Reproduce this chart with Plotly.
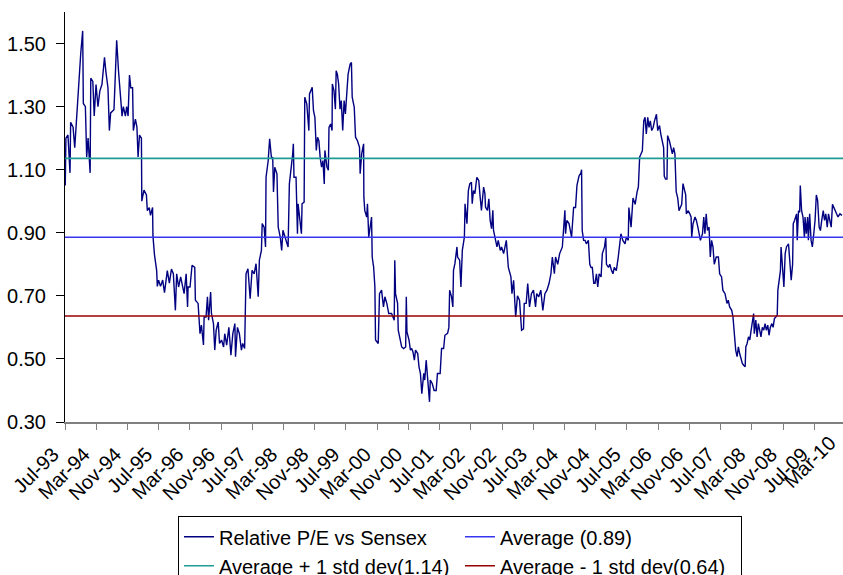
import pandas as pd
import plotly.graph_objects as go

# Weekly-sampled relative P/E (stock P/E divided by Sensex P/E)
dates = [
    "1993-07-03", "1993-07-08", "1993-07-24", "1993-08-09", "1993-08-14", "1993-09-02", "1993-09-15",
    "1993-10-05", "1993-10-16", "1993-11-01", "1993-11-16", "1993-11-21", "1993-12-07", "1993-12-17",
    "1993-12-28", "1994-01-13", "1994-01-18", "1994-02-03", "1994-02-14", "1994-02-28", "1994-03-15",
    "1994-03-30", "1994-04-15", "1994-05-05", "1994-05-16", "1994-06-01", "1994-06-12", "1994-06-22",
    "1994-07-18", "1994-08-08", "1994-08-23", "1994-09-08", "1994-09-19", "1994-09-29", "1994-10-15",
    "1994-10-25", "1994-11-05", "1994-11-16", "1994-11-26", "1994-12-10", "1994-12-16", "1995-01-01",
    "1995-01-13", "1995-01-22", "1995-02-02", "1995-02-17", "1995-02-20", "1995-03-09", "1995-03-28",
    "1995-04-04", "1995-04-19", "1995-04-29", "1995-05-15", "1995-05-18", "1995-05-30", "1995-06-16",
    "1995-06-21", "1995-07-01", "1995-07-16", "1995-08-02", "1995-08-16", "1995-09-07", "1995-09-23",
    "1995-10-09", "1995-10-24", "1995-11-09", "1995-11-19", "1995-12-04", "1995-12-20", "1996-01-16",
    "1996-02-01", "1996-02-12", "1996-02-16", "1996-03-02", "1996-03-18", "1996-04-08", "1996-04-13",
    "1996-05-04", "1996-05-19", "1996-05-30", "1996-06-15", "1996-06-20", "1996-07-05", "1996-07-16",
    "1996-07-25", "1996-08-10", "1996-08-16", "1996-09-01", "1996-09-11", "1996-09-22", "1996-10-08",
    "1996-10-18", "1996-11-03", "1996-11-19", "1996-11-28", "1996-12-13", "1996-12-30", "1997-01-15",
    "1997-01-30", "1997-02-15", "1997-02-20", "1997-03-07", "1997-03-22", "1997-04-07", "1997-04-17",
    "1997-05-02", "1997-05-13", "1997-05-28", "1997-06-14", "1997-06-29", "1997-07-15", "1997-07-30",
    "1997-08-16", "1997-08-25", "1997-09-10", "1997-09-16", "1997-10-01", "1997-10-12", "1997-10-16",
    "1997-11-02", "1997-11-13", "1997-11-28", "1997-12-07", "1997-12-13", "1997-12-23", "1998-01-09",
    "1998-01-19", "1998-02-04", "1998-02-15", "1998-02-25", "1998-03-05", "1998-03-21", "1998-04-06",
    "1998-04-16", "1998-04-26", "1998-05-12", "1998-05-17", "1998-05-22", "1998-06-07", "1998-06-18",
    "1998-06-23", "1998-07-09", "1998-07-19", "1998-07-24", "1998-08-09", "1998-08-14", "1998-08-30",
    "1998-09-15", "1998-09-20", "1998-10-11", "1998-10-21", "1998-11-01", "1998-11-12", "1998-11-22",
    "1998-12-02", "1998-12-12", "1998-12-23", "1999-01-03", "1999-01-13", "1999-01-18", "1999-02-03",
    "1999-02-14", "1999-02-19", "1999-03-04", "1999-03-15", "1999-03-17", "1999-03-30", "1999-04-10",
    "1999-04-16", "1999-04-25", "1999-05-05", "1999-05-16", "1999-05-26", "1999-06-06", "1999-06-17",
    "1999-06-27", "1999-07-07", "1999-07-18", "1999-08-03", "1999-08-13", "1999-08-19", "1999-09-04",
    "1999-09-14", "1999-09-29", "1999-10-15", "1999-10-20", "1999-11-01", "1999-11-16", "1999-11-18",
    "1999-11-25", "1999-12-10", "1999-12-16", "1999-12-26", "2000-01-06", "2000-01-17", "2000-01-22",
    "2000-02-02", "2000-02-12", "2000-02-17", "2000-03-09", "2000-03-19", "2000-04-04", "2000-04-19",
    "2000-04-30", "2000-05-15", "2000-05-30", "2000-06-21", "2000-07-12", "2000-07-16", "2000-07-22",
    "2000-08-07", "2000-08-12", "2000-08-28", "2000-09-08", "2000-09-23", "2000-10-09", "2000-10-14",
    "2000-10-19", "2000-11-04", "2000-11-15", "2000-11-25", "2000-12-05", "2000-12-16", "2000-12-25",
    "2001-01-11", "2001-01-21", "2001-02-01", "2001-02-12", "2001-02-27", "2001-03-07", "2001-03-18",
    "2001-03-28", "2001-04-13", "2001-04-19", "2001-05-04", "2001-05-19", "2001-06-04", "2001-06-14",
    "2001-07-05", "2001-07-16", "2001-08-01", "2001-08-11", "2001-09-01", "2001-09-11", "2001-09-17",
    "2001-10-02", "2001-10-12", "2001-10-17", "2001-10-28", "2001-11-13", "2001-11-18", "2001-12-04",
    "2001-12-14", "2001-12-25", "2002-01-10", "2002-01-15", "2002-01-30", "2002-02-10", "2002-02-21",
    "2002-03-06", "2002-03-12", "2002-03-22", "2002-04-02", "2002-04-17", "2002-05-02", "2002-05-13",
    "2002-05-23", "2002-06-09", "2002-06-19", "2002-06-24", "2002-07-09", "2002-07-20", "2002-07-30",
    "2002-08-10", "2002-08-20", "2002-08-25", "2002-09-05", "2002-09-21", "2002-10-01", "2002-10-17",
    "2002-10-27", "2002-11-12", "2002-12-03", "2002-12-19", "2003-01-08", "2003-01-16", "2003-01-29",
    "2003-02-14", "2003-02-28", "2003-03-16", "2003-04-01", "2003-04-16", "2003-04-22", "2003-05-07",
    "2003-05-19", "2003-06-02", "2003-06-17", "2003-07-03", "2003-07-19", "2003-07-28", "2003-08-13",
    "2003-08-29", "2003-09-14", "2003-09-30", "2003-10-16", "2003-11-01", "2003-11-16", "2003-11-27",
    "2003-12-13", "2003-12-22", "2004-01-08", "2004-01-23", "2004-02-13", "2004-02-24", "2004-03-04",
    "2004-03-09", "2004-03-19", "2004-04-05", "2004-04-15", "2004-04-25", "2004-05-11", "2004-05-26",
    "2004-06-06", "2004-06-22", "2004-07-07", "2004-07-12", "2004-07-17", "2004-07-28", "2004-08-08",
    "2004-08-18", "2004-09-03", "2004-09-14", "2004-09-24", "2004-10-04", "2004-10-15", "2004-10-25",
    "2004-11-05", "2004-11-15", "2004-11-26", "2004-12-11", "2004-12-21", "2005-01-07", "2005-01-17",
    "2005-01-22", "2005-02-07", "2005-02-17", "2005-03-03", "2005-03-14", "2005-03-24", "2005-04-09",
    "2005-04-24", "2005-05-05", "2005-05-15", "2005-05-30", "2005-06-16", "2005-06-26", "2005-07-11",
    "2005-07-16", "2005-08-02", "2005-08-17", "2005-09-03", "2005-09-18", "2005-09-28", "2005-10-08",
    "2005-10-19", "2005-10-29", "2005-11-09", "2005-11-19", "2005-11-29", "2005-12-10", "2005-12-20",
    "2005-12-30", "2006-01-10", "2006-01-21", "2006-02-01", "2006-02-16", "2006-02-26", "2006-03-12",
    "2006-03-22", "2006-04-02", "2006-04-13", "2006-04-18", "2006-04-28", "2006-05-09", "2006-05-14",
    "2006-05-29", "2006-06-10", "2006-06-20", "2006-06-30", "2006-07-10", "2006-07-15", "2006-07-20",
    "2006-08-01", "2006-08-11", "2006-08-21", "2006-09-01", "2006-09-11", "2006-09-22", "2006-10-02",
    "2006-10-07", "2006-10-22", "2006-11-03", "2006-11-13", "2006-11-18", "2006-11-28", "2006-12-14",
    "2006-12-24", "2007-01-05", "2007-01-15", "2007-01-25", "2007-02-10", "2007-02-20", "2007-03-01",
    "2007-03-11", "2007-03-21", "2007-04-02", "2007-04-12", "2007-04-22", "2007-05-03", "2007-05-13",
    "2007-05-28", "2007-06-14", "2007-06-24", "2007-07-09", "2007-07-19", "2007-08-05", "2007-08-20",
    "2007-08-30", "2007-09-10", "2007-09-26", "2007-10-06", "2007-10-17", "2007-10-27", "2007-11-07",
    "2007-11-17", "2007-11-27", "2007-12-08", "2007-12-18", "2007-12-28", "2008-01-09", "2008-01-14",
    "2008-01-24", "2008-02-04", "2008-02-14", "2008-02-24", "2008-03-05", "2008-03-15", "2008-03-20",
    "2008-04-01", "2008-04-11", "2008-04-21", "2008-05-01", "2008-05-11", "2008-05-22", "2008-06-02",
    "2008-06-12", "2008-06-22", "2008-07-03", "2008-07-13", "2008-07-23", "2008-08-04", "2008-08-14",
    "2008-08-24", "2008-09-04", "2008-09-15", "2008-09-20", "2008-09-30", "2008-10-10", "2008-10-15",
    "2008-10-26", "2008-11-06", "2008-11-16", "2008-11-26", "2008-12-12", "2008-12-22", "2009-01-02",
    "2009-01-13", "2009-01-18", "2009-01-28", "2009-02-13", "2009-02-18", "2009-02-28", "2009-03-09",
    "2009-03-14", "2009-03-24", "2009-04-04", "2009-04-15", "2009-04-20", "2009-04-30", "2009-05-10",
    "2009-05-16", "2009-05-26", "2009-06-06", "2009-06-16", "2009-06-27", "2009-07-07", "2009-07-17",
    "2009-07-27", "2009-08-08", "2009-08-18", "2009-08-28", "2009-09-09", "2009-09-19", "2009-09-29",
    "2009-10-10", "2009-10-20", "2009-10-30", "2009-11-10", "2009-11-20", "2009-12-01", "2009-12-11",
    "2009-12-21", "2010-01-02", "2010-01-17", "2010-02-02",
]

relative_pe = [
    1.05, 1.20, 1.21, 1.09, 1.25, 1.235, 1.17,
    1.30, 1.38, 1.47, 1.54, 1.31, 1.30, 1.14,
    1.20, 1.09, 1.39, 1.38, 1.27, 1.37, 1.30,
    1.35, 1.37, 1.456, 1.41, 1.36, 1.224, 1.28,
    1.29, 1.51, 1.41, 1.31, 1.27, 1.30, 1.27,
    1.30, 1.27, 1.40, 1.36, 1.36, 1.224, 1.26,
    1.235, 1.14, 1.21, 1.20, 1.00, 1.035, 1.02,
    0.97, 0.98, 0.955, 0.98, 0.89, 0.83, 0.78,
    0.73, 0.75, 0.73, 0.75, 0.71, 0.78, 0.74,
    0.785, 0.77, 0.654, 0.77, 0.728, 0.76, 0.707,
    0.77, 0.665, 0.728, 0.728, 0.797, 0.79, 0.686,
    0.676, 0.58, 0.607, 0.544, 0.633, 0.633, 0.697,
    0.623, 0.712, 0.644, 0.612, 0.528, 0.591, 0.617,
    0.549, 0.56, 0.538, 0.58, 0.544, 0.60, 0.512,
    0.58, 0.612, 0.507, 0.60, 0.58, 0.528, 0.549,
    0.533, 0.77, 0.786, 0.691, 0.781, 0.77, 0.802,
    0.697, 0.813, 0.844, 0.929, 0.918, 0.855, 1.076,
    1.129, 1.198, 1.134, 1.14, 1.029, 1.108, 1.087,
    0.918, 0.886, 0.844, 0.908, 0.897, 0.876, 0.855,
    1.055, 1.087, 1.15, 1.182, 1.076, 1.076, 0.897,
    0.992, 0.918, 0.897, 0.992, 0.997, 1.33, 1.308,
    1.224, 1.34, 1.361, 1.287, 1.266, 1.161, 1.203,
    1.192, 1.14, 1.108, 1.129, 1.055, 1.161, 1.108,
    1.098, 1.234, 1.245, 1.224, 1.372, 1.35, 1.292,
    1.414, 1.403, 1.372, 1.292, 1.319, 1.224, 1.319,
    1.277, 1.35, 1.403, 1.435, 1.44, 1.33, 1.298,
    1.203, 1.192, 1.171, 1.087, 1.15, 1.182, 1.013,
    0.971, 0.95, 0.992, 0.886, 0.918, 0.95, 0.823,
    0.792, 0.728, 0.56, 0.549, 0.707, 0.718, 0.665,
    0.697, 0.676, 0.644, 0.644, 0.623, 0.813, 0.707,
    0.676, 0.591, 0.56, 0.538, 0.533, 0.538, 0.697,
    0.586, 0.56, 0.528, 0.533, 0.522, 0.496, 0.528,
    0.517, 0.475, 0.454, 0.39, 0.454, 0.433, 0.496,
    0.433, 0.364, 0.433, 0.422, 0.40, 0.40, 0.454,
    0.454, 0.533, 0.533, 0.575, 0.581, 0.60, 0.718,
    0.697, 0.665, 0.781, 0.802, 0.855, 0.823, 0.813,
    0.728, 0.844, 0.886, 0.992, 0.929, 1.034, 1.055,
    1.06, 0.992, 1.034, 1.024, 1.076, 1.066, 1.013,
    0.971, 1.045, 1.024, 0.981, 0.971, 1.008, 0.939,
    0.913, 0.971, 0.908, 0.886, 0.855, 0.876, 0.844,
    0.855, 0.834, 0.876, 0.79, 0.76, 0.707, 0.749,
    0.633, 0.70, 0.686, 0.591, 0.595, 0.676, 0.676,
    0.739, 0.665, 0.707, 0.718, 0.665, 0.707, 0.697,
    0.718, 0.654, 0.707, 0.718, 0.739, 0.77, 0.823,
    0.77, 0.823, 0.80, 0.834, 0.855, 0.918, 0.971,
    0.897, 0.939, 0.929, 0.90, 0.886, 0.98, 0.98,
    1.05, 1.08, 1.09, 1.10, 0.907, 0.876, 0.876,
    0.865, 0.876, 0.80, 0.79, 0.79, 0.74, 0.74,
    0.77, 0.728, 0.77, 0.76, 0.834, 0.855, 0.886,
    0.80, 0.79, 0.80, 0.78, 0.77, 0.79, 0.78,
    0.823, 0.855, 0.897, 0.876, 0.865, 0.886, 0.876,
    0.98, 0.918, 1.01, 0.99, 1.03, 1.045, 1.14,
    1.15, 1.16, 1.255, 1.266, 1.213, 1.266, 1.234,
    1.255, 1.224, 1.234, 1.255, 1.276, 1.224, 1.24,
    1.213, 1.19, 1.17, 1.08, 1.07, 1.07, 1.208,
    1.19, 1.17, 1.15, 1.17, 1.15, 1.09, 1.03,
    1.01, 0.97, 0.98, 0.99, 1.056, 1.03, 1.02,
    0.96, 0.97, 0.96, 0.95, 0.886, 0.928, 0.95,
    0.94, 0.918, 0.897, 0.876, 0.897, 0.95, 0.897,
    0.96, 0.907, 0.918, 0.823, 0.876, 0.855, 0.80,
    0.823, 0.823, 0.77, 0.76, 0.718, 0.707, 0.676,
    0.686, 0.665, 0.654, 0.633, 0.56, 0.528, 0.507,
    0.538, 0.517, 0.496, 0.486, 0.48, 0.475, 0.538,
    0.549, 0.57, 0.56, 0.59, 0.612, 0.644, 0.58,
    0.623, 0.57, 0.612, 0.591, 0.57, 0.60, 0.591,
    0.612, 0.591, 0.607, 0.575, 0.60, 0.612, 0.60,
    0.628, 0.633, 0.639, 0.718, 0.76, 0.78, 0.855,
    0.80, 0.728, 0.834, 0.855, 0.865, 0.80, 0.75,
    0.80, 0.929, 0.939, 0.96, 0.876, 0.97, 0.965,
    1.05, 0.97, 0.95, 0.886, 0.95, 0.897, 0.95,
    0.876, 0.96, 0.876, 0.855, 0.897, 0.939, 1.02,
    1.003, 0.918, 0.907, 0.939, 0.97, 0.939, 0.96,
    0.918, 0.96, 0.939, 0.918, 0.99, 0.98, 0.97,
    0.96, 0.95, 0.96, 0.955,
]

# Long-run mean and one standard deviation band of the relative P/E
average_pe = 0.886
std_dev_pe = 0.25

# Horizontal extent of the date axis and the last category label, which
# sits just past the right edge of the plotting area
axis_start = "1993-07-01"
axis_end = "2010-02-10"
last_label_date = "2010-03-01"

series_color = "#000080"
average_color = "#3535F2"
upper_color = "#1E9C95"
lower_color = "#990000"

fig = go.Figure()
fig.add_trace(go.Scatter(
    x=dates, y=relative_pe, mode="lines",
    name="Relative P/E vs Sensex",
    line=dict(color=series_color, width=1.4),
))
fig.add_trace(go.Scatter(
    x=[axis_start, axis_end], y=[average_pe, average_pe], mode="lines",
    name=f"Average ({average_pe:.2f})",
    line=dict(color=average_color, width=1.6),
))
fig.add_trace(go.Scatter(
    x=[axis_start, axis_end], y=[average_pe + std_dev_pe] * 2, mode="lines",
    name=f"Average + 1 std dev({average_pe + std_dev_pe:.2f})",
    line=dict(color=upper_color, width=1.6),
))
fig.add_trace(go.Scatter(
    x=[axis_start, axis_end], y=[average_pe - std_dev_pe] * 2, mode="lines",
    name=f"Average - 1 std dev({average_pe - std_dev_pe:.2f})",
    line=dict(color=lower_color, width=1.6),
))

plot_h = 575 - 12 - 153
label_shift = -12
label_standoff = 5

# Position of the last label as a fraction of the date axis
t0, t1, tl = (pd.Timestamp(d) for d in (axis_start, axis_end, last_label_date))
last_frac = (tl - t0) / (t1 - t0)

fig.add_annotation(
    xref="paper", yref="paper",
    x=last_frac, y=-(6 + 3) / plot_h,
    text=pd.Timestamp(last_label_date).strftime("%b-%y"),
    textangle=-45, showarrow=False,
    xanchor="right", yanchor="top", xshift=-3, yshift=2,
    font=dict(size=20, color="black"),
)

fig.update_layout(
    width=843, height=575,
    margin=dict(l=65, r=0, t=12, b=153, autoexpand=False),
    paper_bgcolor="white", plot_bgcolor="white",
    font=dict(family="Liberation Sans, Arial, sans-serif", size=20, color="black"),
    showlegend=True,
    legend=dict(
        orientation="h",
        x=0.1452, xanchor="left",
        y=-0.230, yanchor="top",
        bordercolor="black", borderwidth=1, bgcolor="white",
        entrywidth=236, entrywidthmode="pixels",
        itemwidth=30,
        font=dict(size=20, color="black"),
        traceorder="normal",
    ),
)

fig.update_xaxes(
    type="date", range=[axis_start, axis_end],
    tick0=axis_start, dtick="M8", tickformat="%b-%y", tickangle=-45,
    ticks="outside", ticklen=6, tickcolor="#808080", tickwidth=1,
    ticklabelshift=label_shift, ticklabelstandoff=label_standoff,
    showline=True, linecolor="#808080", linewidth=1.5,
    showgrid=False, zeroline=False,
    tickfont=dict(size=20, color="black"),
)
fig.update_yaxes(
    range=[0.30, 1.60], tick0=0.30, dtick=0.2, tickformat=".2f",
    ticks="outside", ticklen=8, tickcolor="black", tickwidth=1,
    showline=True, linecolor="black", linewidth=1,
    showgrid=False, zeroline=False, ticklabelstandoff=6,
    tickfont=dict(size=20, color="black"),
)

fig.write_html("out.html")
